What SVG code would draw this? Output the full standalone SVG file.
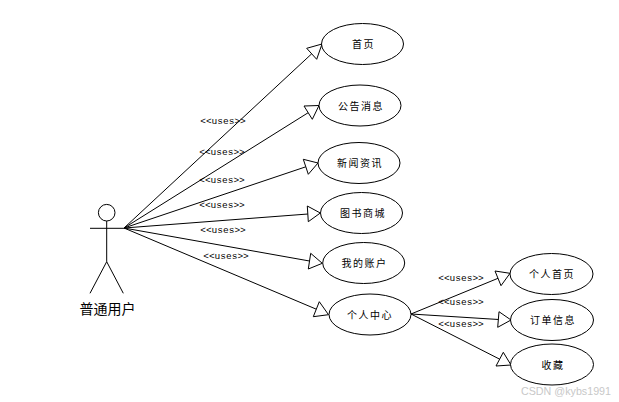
<svg xmlns="http://www.w3.org/2000/svg" width="619" height="402" viewBox="0 0 619 402">
<style>
.s{fill:none;stroke:#000;stroke-width:1}
.h{fill:#fff;stroke:#000;stroke-width:1}
.e{fill:#fff;stroke:#000;stroke-width:1}
.n{font:10px "Noto Sans CJK SC","Liberation Sans",sans-serif;letter-spacing:1.5px;text-anchor:middle;fill:#000}
.l{font:9.5px "Liberation Mono",monospace;text-anchor:middle;fill:#000}
.a{font:14px "Noto Sans CJK SC","Liberation Sans",sans-serif;text-anchor:middle;fill:#000}
.w{font:11px "Liberation Sans",sans-serif;fill:#c8c8c8}
</style>
<rect width="619" height="402" fill="#fff"/>
<g id="connectors">
<path class="s" d="M124 228L311.7 53.8M124 228L308.2 112.7M124 228L305.8 166.8M124 228L308 214M124 228L309.5 261M124 228L316.3 309.2M411 314L498 278.3M411 314L498.8 319.5M411 314L499.7 359.2"/>
<polygon class="h" points="322,44 306.7,48.3 316.7,59.3"/>
<polygon class="h" points="319,105.5 304,106 312.3,119.3"/>
<polygon class="h" points="318,163 303.3,159.3 308.3,174.3"/>
<polygon class="h" points="320.3,213 308.3,221.7 307.3,206"/>
<polygon class="h" points="322.3,263.3 308.3,269 310.7,253.3"/>
<polygon class="h" points="328.5,314.7 313.3,316.7 319.3,301.7"/>
<polygon class="h" points="510,273.3 495,271 501,285.7"/>
<polygon class="h" points="511,320 499,311.7 497.7,327.3"/>
<polygon class="h" points="511,365 503.3,352.3 496,366"/>
<text class="l" x="223" y="124">&lt;&lt;uses&gt;&gt;</text>
<text class="l" x="222" y="155">&lt;&lt;uses&gt;&gt;</text>
<text class="l" x="222" y="183">&lt;&lt;uses&gt;&gt;</text>
<text class="l" x="222" y="208">&lt;&lt;uses&gt;&gt;</text>
<text class="l" x="223" y="233">&lt;&lt;uses&gt;&gt;</text>
<text class="l" x="226" y="259">&lt;&lt;uses&gt;&gt;</text>
<text class="l" x="461" y="281">&lt;&lt;uses&gt;&gt;</text>
<text class="l" x="461" y="305">&lt;&lt;uses&gt;&gt;</text>
<text class="l" x="461" y="327">&lt;&lt;uses&gt;&gt;</text>
</g>
<g id="actor">
<circle class="s" cx="106.7" cy="212.7" r="8.3"/>
<path class="s" d="M106.7 221V261.7L90 293.3M106.7 261.7L123.3 293.3M90 228.3H124"/>
<text class="a" x="107.5" y="314">普通用户</text>
</g>
<g id="n1"><ellipse class="e" cx="362.5" cy="44" rx="41" ry="20.5"/><text class="n" x="363.5" y="48">首页</text></g>
<g id="n2"><ellipse class="e" cx="360" cy="105.5" rx="41" ry="20.5"/><text class="n" x="361" y="109.5">公告消息</text></g>
<g id="n3"><ellipse class="e" cx="359" cy="163" rx="41" ry="20.5"/><text class="n" x="360" y="167">新闻资讯</text></g>
<g id="n4"><ellipse class="e" cx="361.5" cy="213" rx="41" ry="20.5"/><text class="n" x="363" y="217">图书商城</text></g>
<g id="n5"><ellipse class="e" cx="363.7" cy="263" rx="41" ry="20.5"/><text class="n" x="364.5" y="267">我的账户</text></g>
<g id="n6"><ellipse class="e" cx="370" cy="314.5" rx="41" ry="20.5"/><text class="n" x="370" y="318.5">个人中心</text></g>
<g id="n7"><ellipse class="e" cx="551.5" cy="274" rx="41.5" ry="20.5"/><text class="n" x="552" y="278">个人首页</text></g>
<g id="n8"><ellipse class="e" cx="552" cy="320" rx="41.5" ry="20.5"/><text class="n" x="553" y="324">订单信息</text></g>
<g id="n9"><ellipse class="e" cx="552" cy="364.5" rx="41.5" ry="20.5"/><text class="n" x="553" y="368.5">收藏</text></g>
<text class="w" x="521" y="395" textLength="90" lengthAdjust="spacingAndGlyphs">CSDN @kybs1991</text>
</svg>
